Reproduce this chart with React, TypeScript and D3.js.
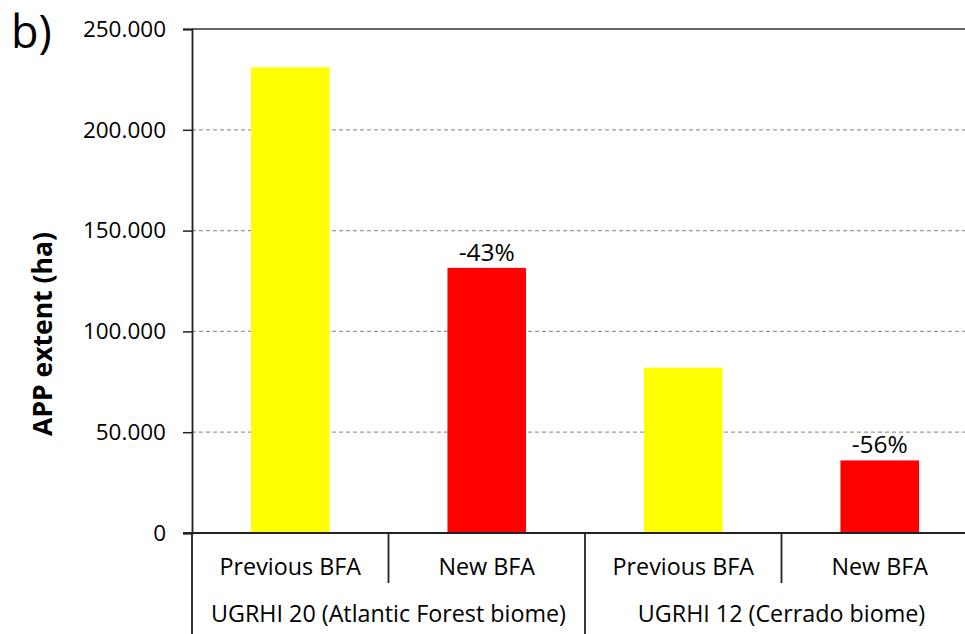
import { useEffect, useRef } from "react";
import * as d3 from "d3";

// bar values (ha)
const categories = ["Previous BFA", "New BFA", "Previous BFA ", "New BFA "];
const categoryLabels = ["Previous BFA", "New BFA", "Previous BFA", "New BFA"];
const values = [231000, 131500, 82000, 36000];
const barColors = ["#ffff00", "#ff0000", "#ffff00", "#ff0000"];
const changeLabels = ["", "-43%", "", "-56%"];
const groups = ["UGRHI 20 (Atlantic Forest biome)", "UGRHI 12 (Cerrado biome)"];
const yTicks = [0, 50000, 100000, 150000, 200000, 250000];

const W = 965;
const H = 634;
const FONT = "'Open Sans', sans-serif";

export default function App() {
  const ref = useRef<SVGSVGElement>(null);

  useEffect(() => {
    const svg = d3.select(ref.current);
    svg.selectAll("*").remove();

    const margin = { top: 29, left: 192, right: -13, bottom: 101 };
    const x = d3
      .scaleBand<string>()
      .domain(categories)
      .range([margin.left, W - margin.right])
      .paddingInner(0.6)
      .paddingOuter(0.3);
    const y = d3
      .scaleLinear()
      .domain([0, 250000])
      .range([H - margin.bottom, margin.top]);

    // thousands with a dot, like "250.000"
    const fmt = (v: number) => (v === 0 ? "0" : d3.format(".3f")(v / 1000));

    // dashed gridlines
    svg
      .append("g")
      .selectAll("line")
      .data(yTicks.filter((t) => t > 0 && t < 250000))
      .join("line")
      .attr("x1", margin.left)
      .attr("x2", W)
      .attr("y1", (d) => y(d))
      .attr("y2", (d) => y(d))
      .attr("stroke", "#9a9a9a")
      .attr("stroke-width", 1.3)
      .attr("stroke-dasharray", "4,3");

    // top border
    svg
      .append("line")
      .attr("x1", margin.left)
      .attr("x2", W)
      .attr("y1", y(250000))
      .attr("y2", y(250000))
      .attr("stroke", "#333")
      .attr("stroke-width", 1.5);

    // bars
    svg
      .append("g")
      .selectAll("rect")
      .data(values)
      .join("rect")
      .attr("x", (_, i) => x(categories[i]) as number)
      .attr("width", x.bandwidth())
      .attr("y", (d) => y(d))
      .attr("height", (d) => y(0) - y(d))
      .attr("fill", (_, i) => barColors[i]);

    // change labels
    svg
      .append("g")
      .selectAll("text")
      .data(values)
      .join("text")
      .attr("x", (_, i) => (x(categories[i]) as number) + x.bandwidth() / 2)
      .attr("y", (d) => y(d) - 7)
      .attr("text-anchor", "middle")
      .attr("font-family", FONT)
      .attr("font-size", 24.5)
      .attr("fill", "#000")
      .text((_, i) => changeLabels[i]);

    // y axis
    const yAxis = d3
      .axisLeft(y)
      .tickValues(yTicks)
      .tickSize(9)
      .tickPadding(17)
      .tickFormat((d) => fmt(d as number));
    const gy = svg
      .append("g")
      .attr("transform", `translate(${margin.left},0)`)
      .call(yAxis);
    gy.select(".domain").attr("stroke", "#222").attr("stroke-width", 1.8);
    gy.selectAll(".tick line").attr("stroke", "#222").attr("stroke-width", 1.5);
    gy.selectAll(".tick text")
      .attr("font-family", FONT)
      .attr("font-size", 22.5)
      .attr("fill", "#000");

    // zero line
    svg
      .append("line")
      .attr("x1", margin.left - 9)
      .attr("x2", W)
      .attr("y1", y(0))
      .attr("y2", y(0))
      .attr("stroke", "#222")
      .attr("stroke-width", 2);

    // category separators
    const step = x.step();
    const x0 = margin.left;
    const bounds = d3.range(categories.length + 1).map((i) => x0 + i * step);
    svg
      .append("g")
      .selectAll("line")
      .data(bounds)
      .join("line")
      .attr("x1", (d) => d)
      .attr("x2", (d) => d)
      .attr("y1", y(0))
      .attr("y2", (_, i) => (i % 2 === 0 ? H : y(0) + 50))
      .attr("stroke", "#222")
      .attr("stroke-width", 1.8);

    // category labels
    svg
      .append("g")
      .selectAll("text")
      .data(categories)
      .join("text")
      .attr("x", (d) => (x(d) as number) + x.bandwidth() / 2)
      .attr("y", y(0) + 42)
      .attr("text-anchor", "middle")
      .attr("font-family", FONT)
      .attr("font-size", 23.3)
      .attr("fill", "#000")
      .text((_, i) => categoryLabels[i]);

    // group labels
    svg
      .append("g")
      .selectAll("text")
      .data(groups)
      .join("text")
      .attr("x", (_, i) => x0 + (i * 2 + 1) * step)
      .attr("y", y(0) + 89)
      .attr("text-anchor", "middle")
      .attr("font-family", FONT)
      .attr("font-size", 23.3)
      .attr("fill", "#000")
      .text((d) => d);

    // y title
    svg
      .append("text")
      .attr("transform", `translate(52,334) rotate(-90)`)
      .attr("text-anchor", "middle")
      .attr("font-family", FONT)
      .attr("font-size", 26.5)
      .attr("font-weight", "bold")
      .attr("fill", "#000")
      .text("APP extent (ha)");

    // panel letter
    svg
      .append("text")
      .attr("x", 11)
      .attr("y", 48)
      .attr("font-family", FONT)
      .attr("font-size", 45)
      .attr("fill", "#000")
      .text("b)");
  }, []);

  return (
    <svg
      ref={ref}
      width={W}
      height={H}
      style={{ position: "absolute", left: 0, top: 0, background: "#fff" }}
    />
  );
}
